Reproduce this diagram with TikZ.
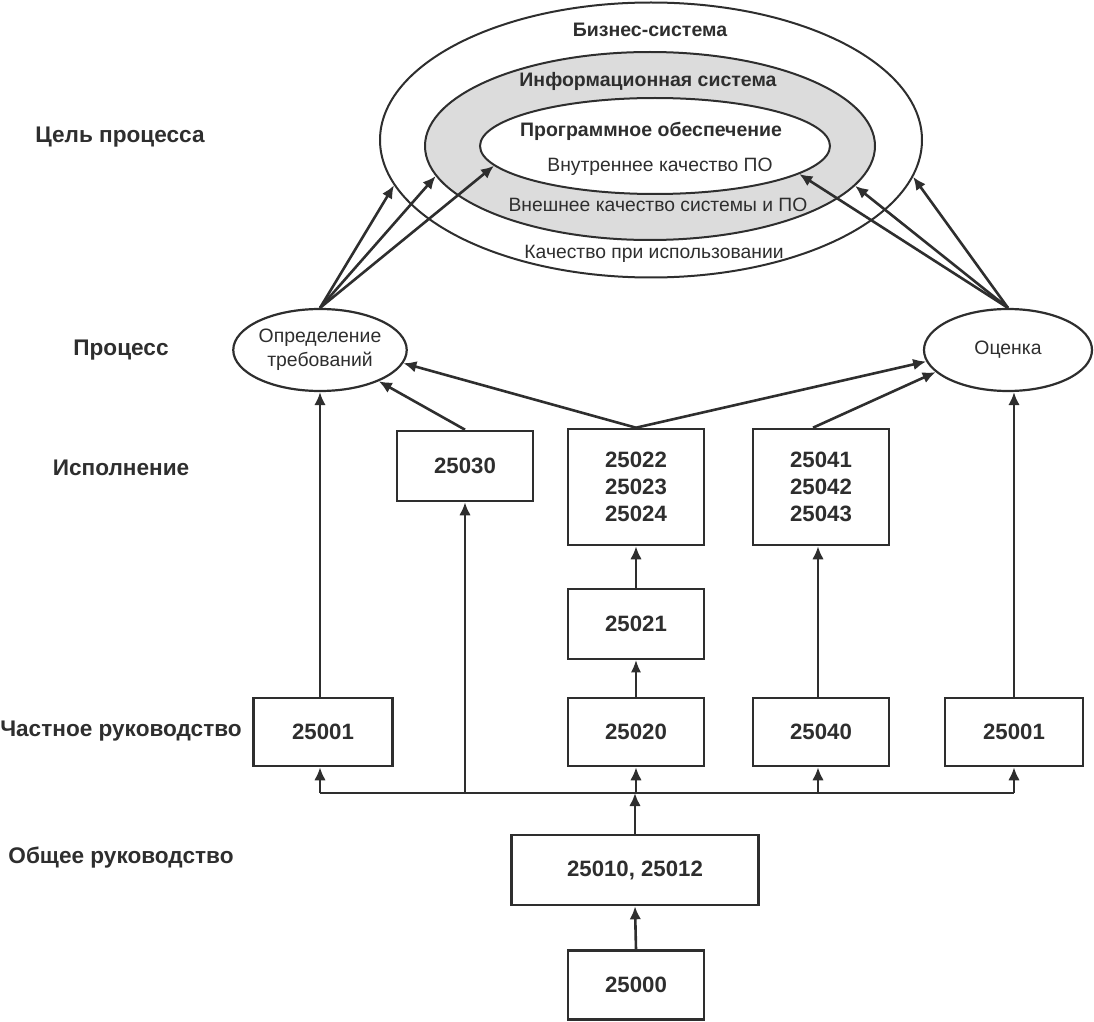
\documentclass[tikz,border=0pt]{standalone}
\usepackage{fontspec}
\setmainfont{Liberation Sans}
\usetikzlibrary{arrows.meta,shapes.geometric}
\definecolor{ink}{HTML}{2E2E2E}
\definecolor{ringgray}{HTML}{DCDCDC}
\begin{document}
\begin{tikzpicture}[x=0.5pt,y=-0.5pt,
  every node/.style={text=ink},
  lbl/.style={font=\fontsize{11.3}{13}\selectfont\bfseries},
  elbl/.style={font=\fontsize{9.75}{12}\selectfont\bfseries},
  rlbl/.style={font=\fontsize{9.65}{12}\selectfont},
  box/.style={draw=ink, line width=1.3pt, fill=white, minimum width=68pt, minimum height=35pt, inner sep=0pt, align=center, font=\fontsize{11.1}{13.5}\selectfont\bfseries},
  ring/.style={ellipse, draw=ink, line width=1pt, inner sep=0pt},
  proc/.style={ellipse, draw=ink, line width=1.1pt, fill=white, inner sep=0pt, minimum width=84pt, minimum height=41pt, align=center, font=\fontsize{9.7}{12}\selectfont},
  arr/.style={draw=ink, line width=1.3pt, -{Latex[length=6.5pt,width=5.8pt]}},
  thinarr/.style={draw=ink, line width=0.6pt, -{Latex[length=6pt,width=5pt]}},
  bus/.style={draw=ink, line width=1.3pt}
]
\useasboundingbox (0,0) rectangle (1094,1022);

% left row labels
\node[lbl] (l1) at (120,137) {Цель процесса};
\node[lbl] (l2) at (121,350) {Процесс};
\node[lbl] (l3) at (121,468) {Исполнение};
\node[lbl] (l4) at (121,731) {Частное руководство};
\node[lbl] (l5) at (121,858) {Общее руководство};

% nested ellipses
\node[ring, fill=white, minimum width=271pt, minimum height=137.5pt] (outer) at (651,140) {};
\node[ring, fill=ringgray, minimum width=225pt, minimum height=94pt] (mid) at (650,146) {};
\node[ring, fill=white, minimum width=175pt, minimum height=48pt] (inner) at (655,146) {};

\node[elbl] (t1) at (650,30) {Бизнес-система};
\node[elbl] (t2) at (648,81) {Информационная система};
\node[elbl] (t3) at (651,131) {Программное обеспечение};
\node[rlbl] (t4) at (660,167) {Внутреннее качество ПО};
\node[rlbl] (t5) at (658,205) {Внешнее качество системы и ПО};
\node[rlbl] (t6) at (654,254) {Качество при использовании};

% process ellipses
\node[proc] (req) at (320,350) {Определение\\требований};
\node[proc] (eval) at (1008,350) {Оценка};

% boxes
\node[box] (b30) at (465,466) {25030};
\node[box, minimum height=58pt] (b22) at (636,487) {25022\\25023\\25024};
\node[box, minimum height=58pt] (b41) at (821,487) {25041\\25042\\25043};
\node[box] (b21) at (636,624) {25021};
\node[box, minimum width=69.5pt, minimum height=34pt] (b01a) at (323,732) {25001};
\node[box, minimum height=34pt] (b20) at (636,732) {25020};
\node[box, minimum height=34pt] (b40) at (821,732) {25040};
\node[box, minimum width=69pt, minimum height=34pt] (b01b) at (1014,732) {25001};
\node[box, minimum width=123.5pt] (b10) at (635,870) {25010, 25012};
\node[box, minimum height=34.5pt] (b00) at (636,985) {25000};

% arrows to the goal ellipses
\draw[arr] (req.north) -- (outer.190.8);
\draw[arr] (req.north) -- (mid.188.5);
\draw[arr] (req.north) -- (inner.187.8);
\draw[arr] (eval.north) -- (outer.352.1);
\draw[arr] (eval.north) -- (mid.349.1);
\draw[arr] (eval.north) -- (inner.349.9);

% arrows to the process ellipses
\draw[arr] (b01a.north -| 320,0) -- (req.south);
\draw[arr] (b30.north) -- (req.332.7);
\draw[arr] (b22.north) -- (req.351.9);
\draw[arr] (b22.north) -- (eval.188.4);
\draw[arr] ([xshift=-4pt]b41.north) -- (eval.197);
\draw[arr] (b01b.north) -- (b01b.north |- eval.south);

% vertical chain
\draw[arr] (b21.north) -- (b22.south);
\draw[thinarr] (b20.north) -- (b21.south);
\draw[arr] ([xshift=-1.5pt]b40.north) -- ([xshift=-1.5pt]b41.south);
\draw[arr] (b00.north) -- (b10.north |- b10.south);

% bus
\coordinate (busL) at (320,793);
\coordinate (busR) at (1014,793);
\draw[bus] (busL) -- (busR);
\draw[arr] (b10.north) -- (b10.north |- busL);
\draw[arr] (busL) -- (busL |- b01a.south);
\draw[arr] (b30.south |- busL) -- (b30.south);
\draw[arr] (b20.south |- busL) -- (b20.south);
\draw[arr] ([xshift=-1.5pt]b40.south |- busL) -- ([xshift=-1.5pt]b40.south);
\draw[arr] (busR) -- (b01b.south);
\end{tikzpicture}
\end{document}
